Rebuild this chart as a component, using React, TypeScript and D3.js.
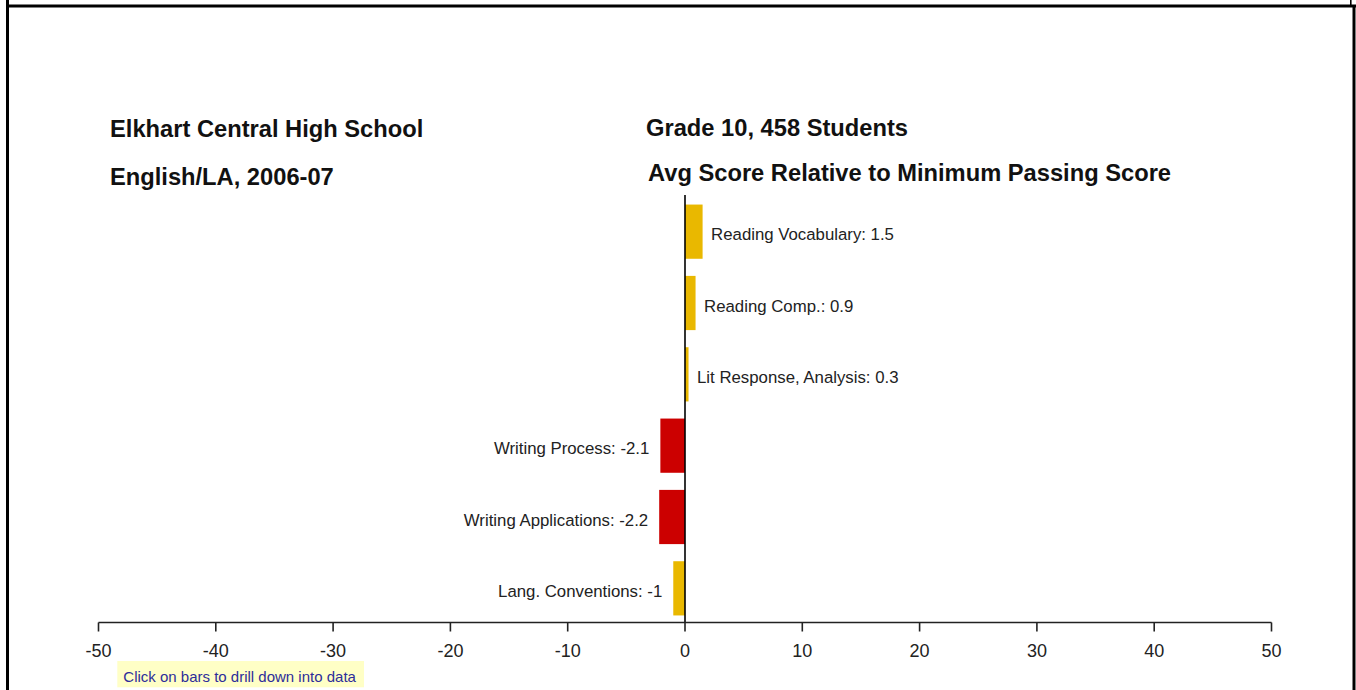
import React from "react";
import * as d3 from "d3";

// Subtest names, top to bottom
const categories: string[] = [
  "Reading Vocabulary",
  "Reading Comp.",
  "Lit Response, Analysis",
  "Writing Process",
  "Writing Applications",
  "Lang. Conventions",
];

// Average score relative to the minimum passing score
const values: number[] = [1.5, 0.9, 0.3, -2.1, -2.2, -1];

const xTicks: number[] = [-50, -40, -30, -20, -10, 0, 10, 20, 30, 40, 50];

const titleLeft: string[] = ["Elkhart Central High School", "English/LA, 2006-07"];
const titleRight: string[] = ["Grade 10, 458 Students", "Avg Score Relative to Minimum Passing Score"];
const footNote = "Click on bars to drill down into data";

const W = 1356;
const H = 690;
const FONT = "'Liberation Sans', Arial, Helvetica, sans-serif";
const GOLD = "#e9b800";
const RED = "#cc0000";

export default function App() {
  const x = d3.scaleLinear().domain([-50, 50]).range([98.5, 1271.5]);
  const y = d3
    .scaleBand<string>()
    .domain(categories)
    .range([196, 624])
    .paddingInner(0.24)
    .paddingOuter(0.12);

  const axisY = 622.5;
  const x0 = x(0);

  return (
    <svg
      width={W}
      height={H}
      viewBox={`0 0 ${W} ${H}`}
      style={{ position: "absolute", left: 0, top: 0, background: "#fff" }}
      fontFamily={FONT}
    >
      <rect x={0} y={0} width={W} height={H} fill="#fff" />

      {/* panel frame */}
      <g stroke="#000" fill="none">
        <line x1={7.5} y1={0} x2={7.5} y2={H} strokeWidth={3} />
        <line x1={6} y1={6} x2={1356} y2={6} strokeWidth={3} />
        <line x1={1354} y1={5} x2={1354} y2={H} strokeWidth={3} />
        <line x1={1350.8} y1={0} x2={1350.8} y2={6} strokeWidth={1.6} />
      </g>

      {/* titles */}
      <g fontWeight="bold" fontSize={23.7} fill="#111">
        <text x={110} y={136.7}>{titleLeft[0]}</text>
        <text x={110} y={185}>{titleLeft[1]}</text>
        <text x={646} y={135.7}>{titleRight[0]}</text>
        <text x={648} y={181}>{titleRight[1]}</text>
      </g>

      {/* bars */}
      <g>
        {categories.map((c, i) => {
          const v = values[i];
          const by = y(c) as number;
          const bx = Math.min(x(v), x0);
          const bw = Math.abs(x(v) - x0);
          return (
            <rect
              key={c}
              x={bx}
              y={by}
              width={bw}
              height={y.bandwidth()}
              fill={v <= -2 ? RED : GOLD}
            />
          );
        })}
      </g>

      {/* value labels */}
      <g fontSize={16.8} fill="#222">
        {categories.map((c, i) => {
          const v = values[i];
          const cy = (y(c) as number) + y.bandwidth() / 2 + 8.5;
          const pos = v >= 0;
          return (
            <text
              key={c}
              x={pos ? x(v) + 8.5 : x(v) - 11}
              y={cy}
              textAnchor={pos ? "start" : "end"}
            >
              {`${c}: ${v}`}
            </text>
          );
        })}
      </g>

      {/* zero line */}
      <line x1={x0} y1={195} x2={x0} y2={axisY} stroke="#000" strokeWidth={1.6} />

      {/* x axis */}
      <g stroke="#222" strokeWidth={1.6} fill="none">
        <line x1={x(-50)} y1={axisY} x2={x(50)} y2={axisY} />
        {xTicks.map((t) => (
          <line key={t} x1={x(t)} y1={axisY} x2={x(t)} y2={axisY + 9} />
        ))}
      </g>
      <g fontSize={18} fill="#222" textAnchor="middle">
        {xTicks.map((t) => (
          <text key={t} x={x(t)} y={656.5}>
            {t}
          </text>
        ))}
      </g>

      {/* hint */}
      <rect x={117.3} y={661} width={246.7} height={26.3} fill="#ffffc6" />
      <text x={123.3} y={681.5} fontSize={15} fill="#2d2d9a">
        {footNote}
      </text>
    </svg>
  );
}
